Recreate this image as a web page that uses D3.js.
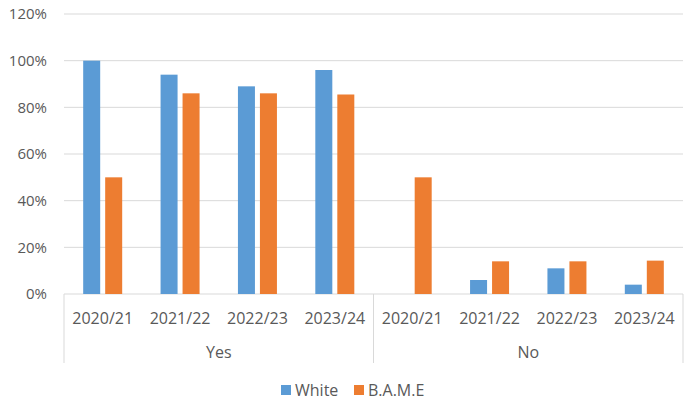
<!DOCTYPE html>
<html>
<head>
<meta charset="utf-8">
<script src="https://cdn.jsdelivr.net/npm/d3@7"></script>
<style>
  body { margin: 0; background: #fff; }
  text { font-family: "Open Sans", sans-serif; fill: #595959; }
</style>
</head>
<body>
<div id="chart"></div>
<script>
// chart data
let groups = ['Yes', 'No'];
let years = ['2020/21', '2021/22', '2022/23', '2023/24'];
let seriesNames = ['White', 'B.A.M.E'];
let whiteValues = [1.00, 0.94, 0.89, 0.96, 0, 0.06, 0.11, 0.04];
let bameValues = [0.50, 0.86, 0.86, 0.855, 0.50, 0.14, 0.14, 0.143];
let yTicks = [0, 0.2, 0.4, 0.6, 0.8, 1.0, 1.2];

let colors = ['#5B9BD5', '#ED7D31'];

// svg definitions
let svgWidth = 700;
let svgHeight = 413;

let margin = { top: 14, right: 17, bottom: 119, left: 64 };
let width = svgWidth - margin.left - margin.right;
let height = svgHeight - margin.top - margin.bottom;

let svg = d3.select('#chart')
  .append('svg')
  .attr('width', svgWidth)
  .attr('height', svgHeight);

let chartG = svg.append('g')
  .attr('transform', `translate(${margin.left}, ${margin.top})`);

// one row per category (group + year)
let rows = [];
groups.forEach(function(g, gi) {
  years.forEach(function(y, yi) {
    let i = gi * years.length + yi;
    rows.push({ key: g + '|' + y, group: g, year: y, values: [whiteValues[i], bameValues[i]] });
  });
});

// scales
let x0 = d3.scaleBand()
  .domain(rows.map(d => d.key))
  .range([0, width])
  .padding(0);

let bw = x0.bandwidth();
let x1 = d3.scaleBand()
  .domain(seriesNames)
  .range([bw / 2 - 19.5, bw / 2 + 19.5])
  .paddingInner(0.227);

let yLin = d3.scaleLinear()
  .domain([0, 1.2])
  .range([height, 0]);

// gridlines
chartG.append('g')
  .selectAll('line')
  .data(yTicks)
  .enter()
  .append('line')
  .attr('x1', 0)
  .attr('x2', width)
  .attr('y1', d => yLin(d))
  .attr('y2', d => yLin(d))
  .attr('stroke', '#D9D9D9')
  .attr('stroke-width', 1);

// y labels
let leftAxis = d3.axisLeft(yLin)
  .tickValues(yTicks)
  .tickFormat(d3.format('.0%'))
  .tickSize(0)
  .tickPadding(17);

let yAxis = chartG.append('g')
  .call(leftAxis);
yAxis.select('.domain').remove();
yAxis.selectAll('text')
  .attr('font-size', '15px')
  .attr('font-family', '"Open Sans", sans-serif')
  .attr('fill', '#595959');

// bars
let catG = chartG.selectAll('.cat')
  .data(rows)
  .enter()
  .append('g')
  .classed('cat', true)
  .attr('transform', d => `translate(${x0(d.key)}, 0)`);

catG.selectAll('rect')
  .data(d => d.values.map((v, i) => ({ name: seriesNames[i], value: v, color: colors[i] })))
  .enter()
  .append('rect')
  .attr('x', d => x1(d.name))
  .attr('width', x1.bandwidth())
  .attr('y', d => yLin(d.value))
  .attr('height', d => height - yLin(d.value))
  .attr('fill', d => d.color);

// year labels
catG.append('text')
  .attr('x', bw / 2)
  .attr('y', height + 30)
  .attr('text-anchor', 'middle')
  .attr('font-size', '16px')
  .text(d => d.year);

// group separators
let groupWidth = bw * years.length;
let sepX = d3.range(groups.length + 1).map(i => i * groupWidth);
chartG.append('g')
  .selectAll('line')
  .data(sepX)
  .enter()
  .append('line')
  .attr('x1', d => d)
  .attr('x2', d => d)
  .attr('y1', height)
  .attr('y2', height + 69)
  .attr('stroke', '#D9D9D9')
  .attr('stroke-width', 1);

// group labels
chartG.append('g')
  .selectAll('text')
  .data(groups)
  .enter()
  .append('text')
  .attr('x', (d, i) => i * groupWidth + groupWidth / 2)
  .attr('y', height + 64)
  .attr('text-anchor', 'middle')
  .attr('font-size', '16px')
  .text(d => d);

// legend
let legendItems = [
  { name: seriesNames[0], color: colors[0], x: 281 },
  { name: seriesNames[1], color: colors[1], x: 354 }
];
let legend = svg.append('g');
let li = legend.selectAll('g')
  .data(legendItems)
  .enter()
  .append('g')
  .attr('transform', d => `translate(${d.x}, 385)`);
li.append('rect')
  .attr('width', 10)
  .attr('height', 10)
  .attr('fill', d => d.color);
li.append('text')
  .attr('x', 14)
  .attr('y', 10.5)
  .attr('font-size', '16px')
  .text(d => d.name);
</script>
</body>
</html>
